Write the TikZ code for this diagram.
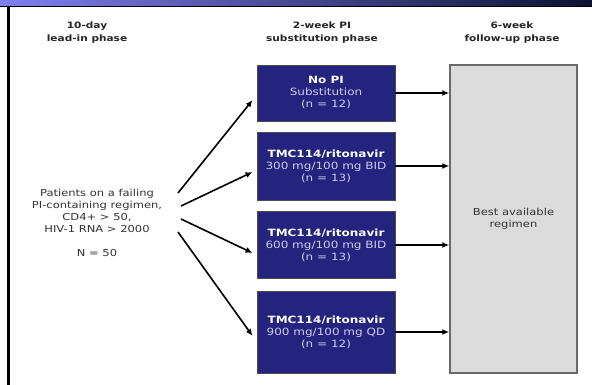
\documentclass[tikz,border=0pt]{standalone}
\usepackage{fontspec}
\setmainfont{DejaVu Sans}
\newfontfamily\wf[FakeStretch=1.2]{DejaVu Sans}
\usetikzlibrary{arrows.meta}
\definecolor{navy}{RGB}{36,36,126}
\definecolor{lav}{RGB}{205,205,240}
\definecolor{lgray}{RGB}{220,220,220}
\definecolor{bgray}{RGB}{105,105,105}
\definecolor{barL}{RGB}{128,128,240}
\definecolor{barM}{RGB}{70,120,225}
\definecolor{barR}{RGB}{12,18,50}
\tikzset{
  hdr/.style={align=center,font=\wf\bfseries\fontsize{8.8}{13}\selectfont,text=black!85,inner sep=0pt},
  armbox/.style={draw=black!70,line width=0.8pt,fill=navy,minimum width=138pt,align=center,
     font=\wf\fontsize{10}{12}\selectfont,text=lav,inner sep=0pt},
  fu/.style={draw=bgray,line width=1.5pt,fill=lgray,minimum width=127pt,minimum height=308pt,
     align=center,font=\wf\fontsize{9.6}{11.5}\selectfont,text=black!80,inner sep=0pt},
  pt/.style={align=center,font=\wf\fontsize{9.6}{12}\selectfont,text=black!80,inner sep=0pt},
  arr/.style={line width=1.6pt,-{Latex[length=7pt,width=6pt]}},
}
\newcommand{\tb}[1]{{\bfseries\color{white}#1}}
\begin{document}
\begin{tikzpicture}[x=1pt,y=-1pt]
\useasboundingbox (0,0) rectangle (592,385);
\fill[white] (0,0) rectangle (592,385);
% top bar
\shade[left color=barL,middle color=barM,right color=barR] (0,0) rectangle (592,6);
\draw[black,line width=1pt] (0,6.5) -- (592,6.5);
% left border
\fill[black] (7,6) rectangle (10,385);
% headers
\node[hdr] (h1) at (87,32.5) {10-day\\lead-in phase};
\node[hdr] (h2) at (322,32.5) {2-week PI\\substitution phase};
\node[hdr] (h3) at (512,32.5) {6-week\\follow-up phase};
% patients
\node[pt] (pat) at (97,211) {Patients on a failing\\PI-containing regimen,\\CD4+ > 50,\\HIV-1 RNA > 2000};
\node[pt] (n50) at (97,253) {N = 50};
% arm boxes
\node[armbox,minimum height=56pt] (b1) at (326,93) {\tb{No PI}\\Substitution\\(n = 12)};
\node[armbox,minimum height=68pt] (b2) at (326,166) {\tb{TMC114/ritonavir}\\300 mg/100 mg BID\\(n = 13)};
\node[armbox,minimum height=67pt] (b3) at (326,245) {\tb{TMC114/ritonavir}\\600 mg/100 mg BID\\(n = 13)};
\node[armbox,minimum height=82pt] (b4) at (326,332) {\tb{TMC114/ritonavir}\\900 mg/100 mg QD\\(n = 12)};
% follow-up box
\node[fu] (fu) at (513.5,219) {Best available\\regimen};
% fan arrows
\coordinate (s1) at (178,193);
\coordinate (s2) at (181,206);
\coordinate (s3) at (181,219);
\coordinate (s4) at (178,232);
\draw[arr] (s1) -- ([xshift=-4pt,yshift=-7pt]b1.west);
\draw[arr] (s2) -- ([xshift=-4pt,yshift=-6pt]b2.west);
\draw[arr] (s3) -- ([xshift=-4pt,yshift=-8pt]b3.west);
\draw[arr] (s4) -- ([xshift=-4pt,yshift=-4pt]b4.west);
% arrows to follow-up
\foreach \b in {b1,b2,b3,b4}
  \draw[arr] (\b.east) -- (\b.east -| fu.west);
\end{tikzpicture}
\end{document}
